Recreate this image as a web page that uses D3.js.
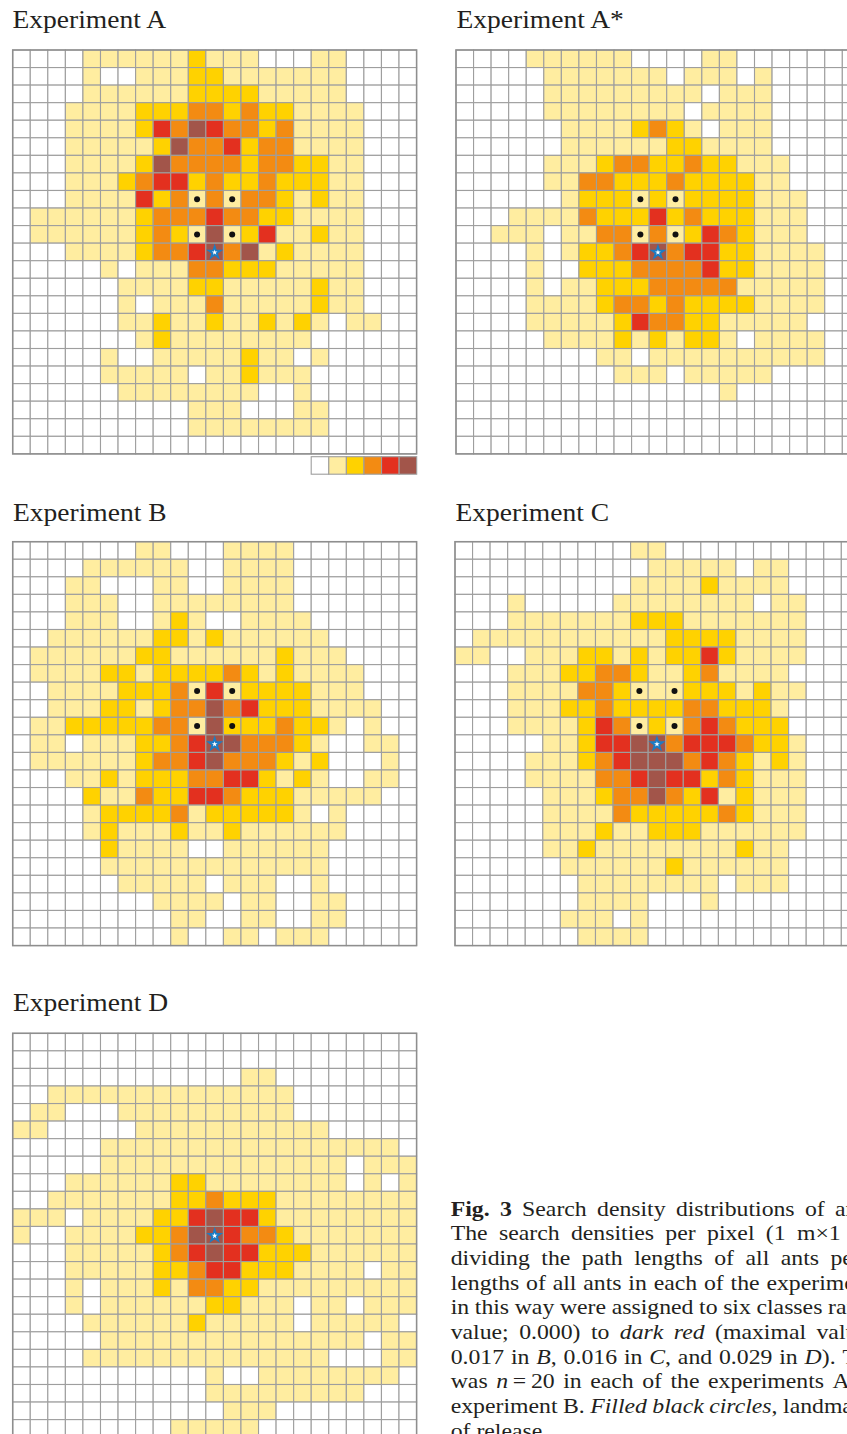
<!DOCTYPE html>
<html>
<head>
<meta charset="utf-8">
<script src="https://cdn.jsdelivr.net/npm/d3@7"></script>
<style>
  body { margin: 0; background: #fff; }
  svg { display: block; }
</style>
</head>
<body>
<div id="chart"></div>
<script>
// density class per pixel (0 = white ... 5 = dark red), one string per row, 23 x 23
const gridA = [
  "00001111112111000110000",
  "00001001112211111110000",
  "00001111112222111110000",
  "00011112223323221111000",
  "00011112435433231111000",
  "00011111253342331111000",
  "00011112533332332211000",
  "00011123442322322211000",
  "00011114231313321211000",
  "01111112333433221111000",
  "01111112321512411211000",
  "00011112334535121111000",
  "00000101113322211111000",
  "00000011112211111211000",
  "00000010111311111211000",
  "00000011211211212101100",
  "00000001211111111000000",
  "00000100111112110100000",
  "00000111110112111000000",
  "00000011111111001000000",
  "00000000001110001100000",
  "00000000001111111100000",
  "00000000000000000000000"
];
const gridAStar = [
  "00001111110000110000000",
  "00000111111101110100000",
  "00000111111111011100000",
  "00000111111110111100000",
  "00000011112321011100000",
  "00000011111122111100000",
  "00000111233223221110000",
  "00000113322232222110000",
  "00000012221212222111000",
  "00011113222423222111000",
  "00111011331312432111000",
  "00001012234534422111100",
  "00001002223333422111100",
  "00001011222333331111100",
  "00001111233232222111100",
  "00001111124332211111000",
  "00000111121212210111100",
  "00000000110111111111100",
  "00000000011101111100000",
  "00000000000000010000000",
  "00000000000000000000000",
  "00000000000000000000000",
  "00000000000000000000000"
];
const gridB = [
  "00000001100011110000000",
  "00001111110011110000000",
  "00011000110011110000000",
  "00011100111111110000000",
  "00011100121001111000000",
  "00111111221211111100000",
  "01111112211111121110000",
  "01111221222232121111000",
  "00111122231412222111000",
  "00111221233534222111100",
  "01122222331522232210100",
  "01101112234553332100110",
  "01111112334533321200010",
  "00011212223344212100110",
  "00002113224432221111100",
  "00001222231222221010000",
  "00001211121121111110000",
  "00000211110011111100000",
  "00000111111111111100000",
  "00000011111011100100000",
  "00000000111101100110000",
  "00000000011001100110000",
  "00000000010011011100000"
];
const gridC = [
  "00000000001100000000000",
  "00000000000111110110000",
  "00000000001111211110000",
  "00010000011111111011000",
  "00011111112221111111000",
  "01111111111122221111000",
  "11001112212122421111000",
  "00011122332112311110000",
  "00011113321112221211000",
  "00011122322223322210000",
  "00011112431213432220000",
  "00000112445534443221000",
  "00001112345553432121000",
  "00001111334544232111000",
  "00000111233532412111000",
  "00000111132222232111000",
  "00000111211222111111000",
  "00000112111111112110000",
  "00000011111121111110000",
  "00000001111111101110000",
  "00000001111000100000000",
  "00000011101000000000000",
  "00000001111000000000000"
];
const gridD = [
  "00000000000000000000000",
  "00000000000000000000000",
  "00000000000001100000000",
  "00111111111111110000000",
  "01100011111111110000000",
  "11000001111111111100000",
  "00000111111111111111110",
  "00000111111111111110111",
  "00011111122111111110101",
  "00111111122322211111111",
  "11101111224544211111111",
  "10011112235543321111111",
  "00011111234544222111111",
  "00011111223442221111011",
  "00010111213322111111111",
  "00010111111221110110111",
  "00001111112111110111110",
  "00000111111111111111011",
  "00001111111111111100011",
  "00000000000100111111110",
  "00000000000111111111000",
  "00000000000011100000000",
  "00000000011111000000000"
];

const classColors = ["#ffffff", "#ffeda0", "#ffd200", "#f38b12", "#e3301f", "#a2554a"];
const legendClasses = [0, 1, 2, 3, 4, 5];
const landmarkCells = [[10, 8], [12, 8], [10, 10], [12, 10]]; // [col, row]
const releaseCell = [11, 11];

const panels = [
  { title: "Experiment A",  rows: gridA,     x: 12.7, y: 50,    tx: 12.5,  ty: 28,    landmarks: true,  legend: true },
  { title: "Experiment A*", rows: gridAStar, x: 456,  y: 50,    tx: 456.5, ty: 28,    landmarks: true },
  { title: "Experiment B",  rows: gridB,     x: 12.7, y: 541.7, tx: 13,    ty: 520.7, landmarks: true },
  { title: "Experiment C",  rows: gridC,     x: 455,  y: 541.7, tx: 455.5, ty: 520.7, landmarks: true },
  { title: "Experiment D",  rows: gridD,     x: 12.7, y: 1033.3, tx: 13,   ty: 1010.7, landmarks: false }
];

// caption lines: text before the last visible word, then that word (justified to its x)
const captionLines = [
  { parts: [["Fig. 3", "b"], [" Search density distributions of ", ""]], tail: "ants", tailX: 835 },
  { parts: [["The search densities per pixel (1 ", ""]], tail: "m×1 m)", tailX: 797 },
  { parts: [["dividing the path lengths of all ants ", ""]], tail: "per", tailX: 830.5 },
  { parts: [["lengths of all ants in each of the ", ""]], tail: "experiments.", tailX: 766.5 },
  { parts: [["in this way were assigned to six classes ", ""]], tail: "ranging", tailX: 828 },
  { parts: [["value; 0.000) to ", ""], ["dark red", "i"], [" (maximal ", ""]], tail: "value;", tailX: 816.5 },
  { parts: [["0.017 in ", ""], ["B", "i"], [", 0.016 in ", ""], ["C", "i"], [", and 0.029 in ", ""], ["D", "i"], ["). ", ""]], tail: "The", tailX: 842.5 },
  { parts: [["was ", ""], ["n", "i"], ["\u2009=\u200920 in each of the experiments ", ""]], tail: "A,", tailX: 832.5 },
  { parts: [["experiment B. ", ""], ["Filled black circles", "i"], [", ", ""]], tail: "landmarks;", tailX: 783 },
  { parts: [["of release.", ""]], tail: null, tailX: null }
];

const W = 847, H = 1434;
const serif = "'Liberation Serif', 'Times New Roman', serif";
const ink = "#231f20";
const stretch = 1.08;

const svg = d3.select("#chart").append("svg")
  .attr("width", W).attr("height", H)
  .attr("viewBox", `0 0 ${W} ${H}`);
svg.append("rect").attr("width", W).attr("height", H).attr("fill", "#fff");

const n = 23, cell = 17.56;
const band = d3.scaleBand().domain(d3.range(n)).range([0, n * cell]);
const colour = d3.scaleOrdinal().domain(legendClasses).range(classColors);

const drawPanel = (p) => {
  svg.append("text")
    .attr("transform", `translate(${p.tx},${p.ty}) scale(${stretch},1)`)
    .attr("font-family", serif)
    .attr("font-size", 25.5)
    .attr("fill", ink)
    .text(p.title);

  const g = svg.append("g").attr("transform", `translate(${p.x},${p.y})`);

  const cells = [];
  p.rows.forEach((row, r) => row.split("").forEach((v, c) => cells.push({ r: r, c: c, v: +v })));

  g.selectAll("rect.cell")
    .data(cells)
    .enter().append("rect")
    .attr("class", "cell")
    .attr("x", d => band(d.c))
    .attr("y", d => band(d.r))
    .attr("width", band.bandwidth())
    .attr("height", band.bandwidth())
    .attr("fill", d => colour(d.v))
    .attr("stroke", "#9e9e9e")
    .attr("stroke-width", 1.1);

  g.append("rect")
    .attr("width", n * cell).attr("height", n * cell)
    .attr("fill", "none")
    .attr("stroke", "#8e8e8e")
    .attr("stroke-width", 1.5);

  if (p.landmarks) {
    g.selectAll("circle.lm")
      .data(landmarkCells)
      .enter().append("circle")
      .attr("class", "lm")
      .attr("cx", d => band(d[0]) + band.bandwidth() / 2)
      .attr("cy", d => band(d[1]) + band.bandwidth() / 2)
      .attr("r", 3)
      .attr("fill", "#111");
  }

  // point of release
  const sx = band(releaseCell[0]) + band.bandwidth() / 2;
  const sy = band(releaseCell[1]) + band.bandwidth() / 2;
  g.append("path")
    .attr("d", d3.symbol(d3.symbolStar, 90)())
    .attr("transform", `translate(${sx},${sy + 0.5})`)
    .attr("fill", "#1c7cc4");
  g.append("path")
    .attr("d", d3.symbol(d3.symbolStar, 10)())
    .attr("transform", `translate(${sx},${sy + 0.5})`)
    .attr("fill", "#fff");

  if (p.legend) {
    const lx = d3.scaleBand().domain(legendClasses).range([298.5, 404]);
    g.selectAll("rect.key")
      .data(legendClasses)
      .enter().append("rect")
      .attr("class", "key")
      .attr("x", d => lx(d))
      .attr("y", 406.7)
      .attr("width", lx.bandwidth())
      .attr("height", 17.5)
      .attr("fill", d => colour(d))
      .attr("stroke", "#9e9e9e")
      .attr("stroke-width", 1.1);
  }
};

panels.forEach(drawPanel);

// caption, justified like the printed column (it runs past the right edge in the source)
const capX = 450.7, capY = 1215.7, lead = 24.66, capSize = 22;
captionLines.forEach((line, i) => {
  const t = svg.append("text")
    .attr("transform", `translate(${capX},${capY + i * lead}) scale(${stretch},1)`)
    .attr("font-family", serif)
    .attr("font-size", capSize)
    .attr("fill", ink)
    .attr("xml:space", "preserve")
    .style("white-space", "pre");

  line.parts.forEach(([s, f]) => {
    t.append("tspan")
      .attr("font-weight", f === "b" ? "bold" : null)
      .attr("font-style", f === "i" ? "italic" : null)
      .text(s);
  });

  if (line.tail) {
    const w = t.node().getComputedTextLength();
    const spaces = line.parts.map(d => d[0]).join("").split(" ").length - 1;
    const target = (line.tailX - capX) / stretch;
    t.attr("word-spacing", ((target - w) / spaces).toFixed(2));
    t.append("tspan").text(line.tail);
  }
});
</script>
</body>
</html>
